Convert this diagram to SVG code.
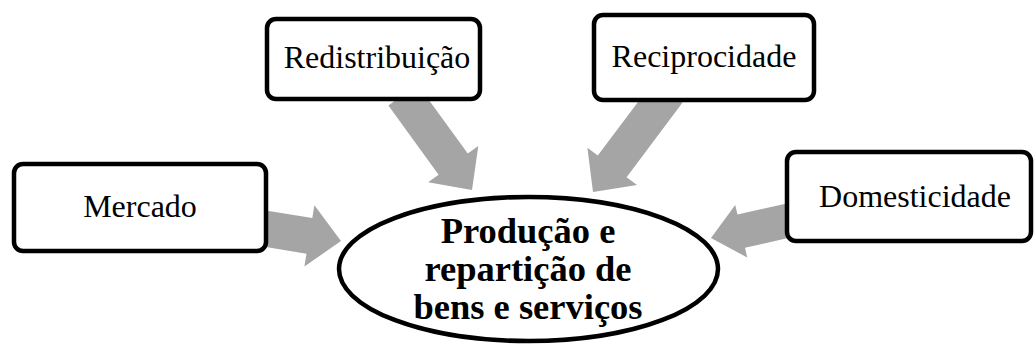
<svg xmlns="http://www.w3.org/2000/svg" width="1035" height="345" viewBox="0 0 1035 345">
<style>
.box{fill:#fff;stroke:#000;stroke-width:4.5}
.arrow{fill:#a5a5a5;stroke:none}
.lbl{font-size:32px;fill:#000;text-anchor:middle}
.ctr{font-size:36.5px;font-weight:bold;fill:#000;text-anchor:middle}
</style>
<rect width="1035" height="345" fill="#fff"/>
<g id="connectors">
<polygon class="arrow" points="257.9,209.2 312.3,218.1 314.4,205.3 341,241 304.4,266.5 306.5,253.7 252.1,244.8"/>
<polygon class="arrow" points="417.6,84.4 467.8,153.5 478.3,145.9 472,190 428.1,182.3 438.6,174.7 388.4,105.6"/>
<polygon class="arrow" points="682.4,102.8 626.6,177.2 637,185 593,192 587.4,147.8 597.8,155.6 653.6,81.2"/>
<polygon class="arrow" points="791.2,202.4 737.5,214.6 735.2,204.9 711,238 747.2,257.5 745,247.8 798.8,235.6"/>
</g>
<g font-family="Liberation Serif, Times New Roman, Times, serif">
<g id="node-mercado">
<rect class="box" x="14" y="164" width="252" height="87" rx="9"/>
<text class="lbl" x="140" y="217">Mercado</text>
</g>
<g id="node-redistribuicao">
<rect class="box" x="267" y="19" width="213" height="80" rx="9"/>
<text class="lbl" x="377" y="68">Redistribuição</text>
</g>
<g id="node-reciprocidade">
<rect class="box" x="594" y="15" width="220" height="85" rx="9"/>
<text class="lbl" x="704" y="67">Reciprocidade</text>
</g>
<g id="node-domesticidade">
<rect class="box" x="787" y="152" width="244" height="89" rx="9"/>
<text class="lbl" x="915" y="207">Domesticidade</text>
</g>
<g id="node-centro">
<ellipse class="box" cx="528.5" cy="269" rx="189.5" ry="72"/>
<text class="ctr" x="528" y="243">Produção e</text>
<text class="ctr" x="528" y="281">repartição de</text>
<text class="ctr" x="528" y="319">bens e serviços</text>
</g>
</g>
</svg>
